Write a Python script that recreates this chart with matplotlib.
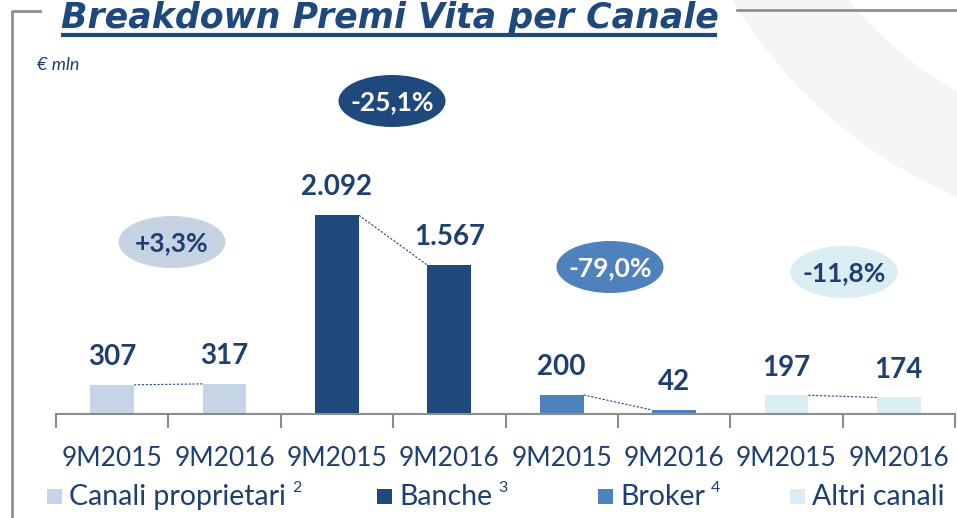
import numpy as np
import matplotlib
matplotlib.use("Agg")
import matplotlib.pyplot as plt
from matplotlib.patches import Ellipse, Rectangle, Wedge

plt.rcParams['font.family'] = ['Lato', 'DejaVu Sans']

# data
periods = ['9M2015', '9M2016', '9M2015', '9M2016', '9M2015', '9M2016', '9M2015', '9M2016']
premi = [307, 317, 2092, 1567, 200, 42, 197, 174]
value_labels = ['307', '317', '2.092', '1.567', '200', '42', '197', '174']
channels = ['Canali proprietari', 'Banche', 'Broker', 'Altri canali']
channel_notes = ['2', '3', '4', '']
deltas = ['+3,3%', '-25,1%', '-79,0%', '-11,8%']

txt = '#1f3f73'
dark = '#1f497d'
colors = ['#c5d5e5', '#1f497d', '#4f81bd', '#dbeef3']
pill_bg = ['#c6d3e3', '#1f497d', '#4f81bd', '#daedf3']
pill_fg = [txt, 'white', 'white', txt]

W, H = 957, 518
fig = plt.figure(figsize=(W / 100, H / 100), dpi=100)

# background / decoration layer in pixel coords
bg = fig.add_axes([0, 0, 1, 1], zorder=0)
bg.set_xlim(0, W)
bg.set_ylim(H, 0)
bg.axis('off')

bg.add_patch(Wedge((1150, -250), 487, 90, 270, width=95, color='#f5f5f5', lw=0))
bg.plot([12, 12, 40], [H, 11, 11], color='#8f8f8f', lw=2)
bg.plot([737, W], [10, 10], color='#8f8f8f', lw=2)

bg.text(61, 28, 'Breakdown Premi Vita per Canale', fontsize=25, fontweight='bold',
        fontstyle='italic', family='DejaVu Sans', color=dark, ha='left', va='baseline')
bg.plot([61, 717], [35, 35], color=dark, lw=3, solid_capstyle='butt')
bg.text(37, 65, '€ mln', fontsize=13, fontstyle='italic', color=txt, va='center')

# change pills
pill_pos = [(172, 242), (392, 101), (610, 267), (844, 272)]
for (px, py), lab, bc, fc in zip(pill_pos, deltas, pill_bg, pill_fg):
    bg.add_patch(Ellipse((px, py), 107, 52, color=bc, lw=0))
    bg.text(px, py + 1, lab, fontsize=19, fontweight='bold', color=fc, ha='center', va='center')

# legend
leg_x = [47, 377, 598, 790]
for lx, name, note, c in zip(leg_x, channels, channel_notes, colors):
    bg.add_patch(Rectangle((lx, 489), 15, 15, color=c, lw=0))
    t = bg.text(lx + 22, 497, name, fontsize=20.5, color=txt, va='center')
    if note:
        fig.canvas.draw()
        bb = t.get_window_extent()
        bg.text(bb.x1 + 6, 488, note, fontsize=11.5, color=txt, va='center')

# main chart
ax = fig.add_axes([56 / W, (H - 414) / H, 899 / W, 354 / H], zorder=1)
ax.set_facecolor('none')
x = np.arange(len(premi))
bar_colors = [colors[i // 2] for i in range(len(premi))]
bw = 0.39
ax.bar(x, premi, width=bw, color=bar_colors, zorder=2)

for i in range(0, len(premi), 2):
    ax.plot([x[i] + bw / 2, x[i + 1] - bw / 2], [premi[i], premi[i + 1]],
            color=dark, lw=0.8, ls=(0, (2, 1.5)), zorder=3)

for xi, v, lab in zip(x, premi, value_labels):
    ax.annotate(lab, (xi, v), xytext=(0, 20), textcoords='offset points',
                ha='center', va='center', fontsize=20, fontweight='bold', color=txt)

ax.set_xlim(-0.5, len(premi) - 0.5)
ax.set_ylim(0, 3726)
ax.set_yticks([])
for s in ['top', 'right', 'left']:
    ax.spines[s].set_visible(False)
ax.spines['bottom'].set_color('#8c8c8c')
ax.spines['bottom'].set_linewidth(1.5)

ax.set_xticks(x)
ax.set_xticklabels(periods, fontsize=19, color=txt)
ax.tick_params(axis='x', which='major', length=0, pad=23)
ax.set_xticks(np.arange(-0.5, len(premi)), minor=True)
ax.tick_params(axis='x', which='minor', length=10, width=1.5, color='#8c8c8c')

fig.savefig('out.png', dpi=100)
